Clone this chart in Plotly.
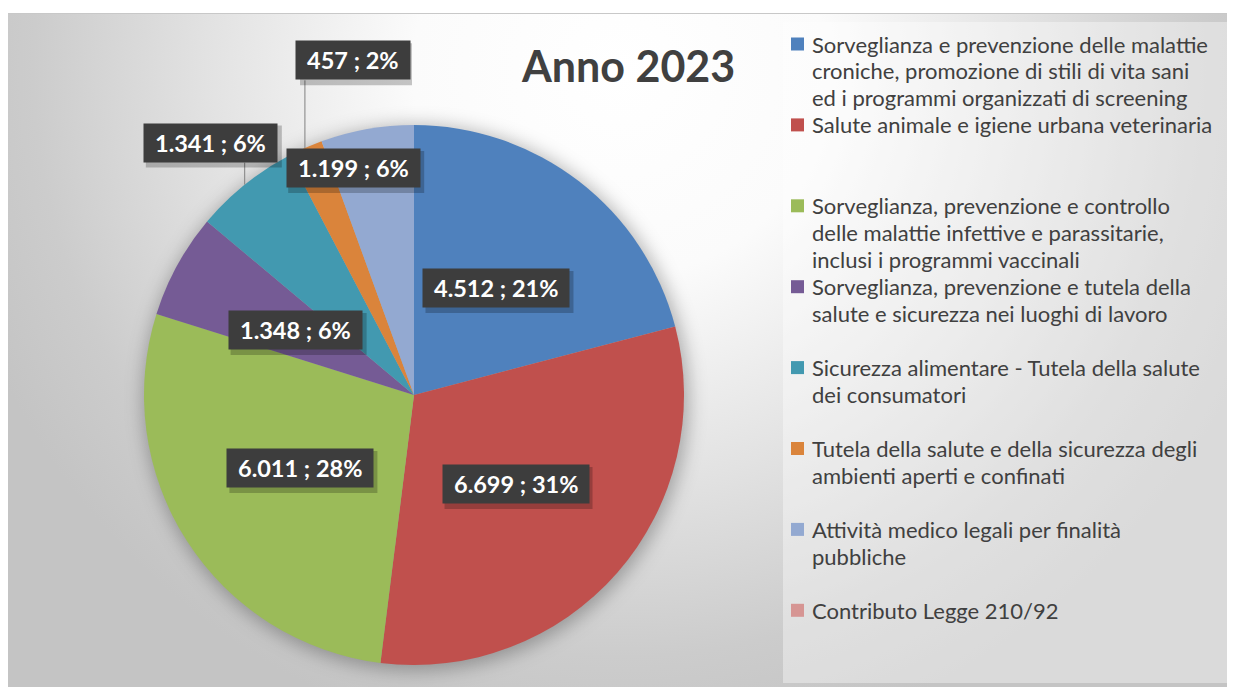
import math
import base64
import plotly.graph_objects as go

# ---------------- data ----------------
title_text = "Anno 2023"
categories = [
    "Sorveglianza e prevenzione delle malattie croniche, promozione di stili di vita sani ed i programmi organizzati di screening",
    "Salute animale e igiene urbana veterinaria",
    "Sorveglianza, prevenzione e controllo delle malattie infettive e parassitarie, inclusi i programmi vaccinali",
    "Sorveglianza, prevenzione e tutela della salute e sicurezza nei luoghi di lavoro",
    "Sicurezza alimentare - Tutela della salute dei consumatori",
    "Tutela della salute e della sicurezza degli ambienti aperti e confinati",
    "Attività medico legali per finalità pubbliche",
    "Contributo Legge 210/92",
]
legend_lines = [
    ["Sorveglianza e prevenzione delle malattie", "croniche, promozione di stili di vita sani", "ed i programmi organizzati di screening"],
    ["Salute animale e igiene urbana veterinaria"],
    ["Sorveglianza, prevenzione e controllo", "delle malattie infettive e parassitarie,", "inclusi i programmi vaccinali"],
    ["Sorveglianza, prevenzione e tutela della", "salute e sicurezza nei luoghi di lavoro"],
    ["Sicurezza alimentare - Tutela della salute", "dei consumatori"],
    ["Tutela della salute e della sicurezza degli", "ambienti aperti e confinati"],
    ["Attività medico legali per finalità", "pubbliche"],
    ["Contributo Legge 210/92"],
]
values = [4512, 6699, 6011, 1348, 1341, 457, 1199, 0]

# ---------------- style ----------------
colors = ["#4F81BD", "#C0504D", "#9BBB59", "#755B95", "#4299B0", "#DA843B", "#93A9D1", "#D69593"]
W, H = 1235, 687                    # browser window
OFF = 8                             # default body margin of the page
FW, FH = W - OFF, H - OFF           # figure size
CX, CY, R = 414, 395, 270           # pie centre / radius in window pixels
LABEL_RF = [0.5, 0.5, 0.5, 0.5, 1.2, 1.26, 0.87]   # label distance (fraction of radius)
LABEL_DA = [0, 0, 0, 0, 0, 13.5, -5]               # label angular shift (deg)
LEADER = [False, False, False, False, True, True, False]
FONT = "Lato"
LABEL_FS = 23.5


def px2paper(x, y):
    return (x - OFF) / FW, 1 - (y - OFF) / FH


# ---------------- background (radial gradient + pie shadow) ----------------
bx0, by0 = 7, 13
bx1 = 1233
bw, bh = bx1 - bx0, H - by0
svg = f'''<svg xmlns="http://www.w3.org/2000/svg" width="{bw}" height="{bh}" viewBox="0 0 {bw} {bh}" preserveAspectRatio="none">
<defs>
<radialGradient id="g" gradientUnits="userSpaceOnUse" cx="{620-bx0}" cy="{70-by0}" r="690">
<stop offset="0" stop-color="#ffffff"/>
<stop offset="0.3" stop-color="#fbfbfb"/>
<stop offset="0.6" stop-color="#e2e2e2"/>
<stop offset="0.85" stop-color="#cccccc"/>
<stop offset="1" stop-color="#c4c4c4"/>
</radialGradient>
<filter id="b" x="-20%" y="-20%" width="140%" height="140%"><feGaussianBlur stdDeviation="9"/></filter>
</defs>
<rect x="0" y="0" width="{bw}" height="{bh}" fill="url(#g)"/>
<circle cx="{CX-bx0+2}" cy="{CY-by0+3}" r="{R+3}" fill="#000" fill-opacity="0.28" filter="url(#b)"/>
<line x1="0" y1="0.5" x2="{bw}" y2="0.5" stroke="#c8c8c8" stroke-width="1"/>
</svg>'''
src = "data:image/svg+xml;base64," + base64.b64encode(svg.encode("utf-8")).decode()

fig = go.Figure()
dx0, dy1 = px2paper(CX - R, CY - R)
dx1, dy0 = px2paper(CX + R, CY + R)
fig.add_trace(go.Pie(
    labels=categories,
    values=values,
    sort=False,
    direction="clockwise",
    rotation=0,
    marker=dict(colors=colors, line=dict(width=0)),
    textinfo="none",
    showlegend=False,
    domain=dict(x=[dx0, dx1], y=[dy0, dy1]),
))

shapes = []
annotations = []

# legend box
lx0, ly1 = px2paper(783, 22)
lx1, ly0 = px2paper(1227, 683)
shapes.append(dict(type="rect", xref="paper", yref="paper", x0=lx0, x1=lx1, y0=ly0, y1=ly1,
                   fillcolor="rgba(255,255,255,0.38)", line=dict(width=0), layer="below"))

# title
tx, ty = px2paper(628, 65)
annotations.append(dict(x=tx, y=ty, xref="paper", yref="paper", text="<b>%s</b>" % title_text,
                        showarrow=False, font=dict(family=FONT, size=43, color="#404040"),
                        xanchor="center", yanchor="middle"))

# data labels
total = sum(values)
cum = 0
for i, v in enumerate(values):
    if v == 0:
        continue
    mid = (cum + v / 2) / total * 360
    cum += v
    ang = math.radians(mid + LABEL_DA[i])
    r = R * LABEL_RF[i]
    lx = CX + r * math.sin(ang)
    ly = CY - r * math.cos(ang)
    raw = "%s ; %d%%" % (f"{v:,}".replace(",", "."), round(100 * v / total))
    txt = "&nbsp;<b>%s</b>&nbsp;" % raw
    if LEADER[i]:
        ea = math.radians(mid)
        ex = CX + R * math.sin(ea)
        ey = CY - R * math.cos(ea)
        x0, y0 = px2paper(ex, ey)
        x1, y1 = px2paper(ex, ly + 20)
        shapes.append(dict(type="line", xref="paper", yref="paper", x0=x0, y0=y0, x1=x1, y1=y1,
                           line=dict(color="#808080", width=1)))
    # soft drop shadow behind the label box (approximate box size)
    bwid = 12.0 * len(raw) + 16
    s0x, s0y = px2paper(lx - bwid / 2 + 3, ly + 21 + 4)
    s1x, s1y = px2paper(lx + bwid / 2 + 3, ly - 21 + 4)
    shapes.append(dict(type="rect", xref="paper", yref="paper", x0=s0x, x1=s1x, y0=s0y, y1=s1y,
                       fillcolor="rgba(0,0,0,0.22)", line=dict(width=0)))
    ax, ay = px2paper(lx, ly)
    annotations.append(dict(x=ax, y=ay, xref="paper", yref="paper", text=txt,
                            showarrow=False, font=dict(family=FONT, size=LABEL_FS, color="white"),
                            bgcolor="#3d3d3d", borderpad=5, xanchor="center", yanchor="middle"))

# custom legend (one annotation per text line)
LEG_Y0, LEG_STEP, LEG_LINE, LEG_FS = 44, 80.9, 26.8, 22
for i, lines in enumerate(legend_lines):
    yc = LEG_Y0 + LEG_STEP * i
    q0x, q0y = px2paper(791, yc - 6.5)
    q1x, q1y = px2paper(804, yc + 6.5)
    shapes.append(dict(type="rect", xref="paper", yref="paper", x0=q0x, x1=q1x, y0=q1y, y1=q0y,
                       fillcolor=colors[i], line=dict(width=0)))
    for j, line in enumerate(lines):
        ax, ay = px2paper(810, yc + LEG_LINE * j)
        annotations.append(dict(x=ax, y=ay, xref="paper", yref="paper", text=line,
                                showarrow=False, align="left", xanchor="left", yanchor="middle",
                                font=dict(family=FONT, size=LEG_FS, color="#404040")))

fig.update_layout(
    width=FW, height=FH,
    margin=dict(l=0, r=0, t=0, b=0),
    paper_bgcolor="white",
    plot_bgcolor="white",
    shapes=shapes,
    annotations=annotations,
    images=[dict(source=src, xref="paper", yref="paper",
                 x=(bx0 - OFF) / FW, y=1 - (by0 - OFF) / FH,
                 sizex=bw / FW, sizey=bh / FH, sizing="stretch", xanchor="left", yanchor="top",
                 layer="below")],
)

fig.write_html("out.html")
